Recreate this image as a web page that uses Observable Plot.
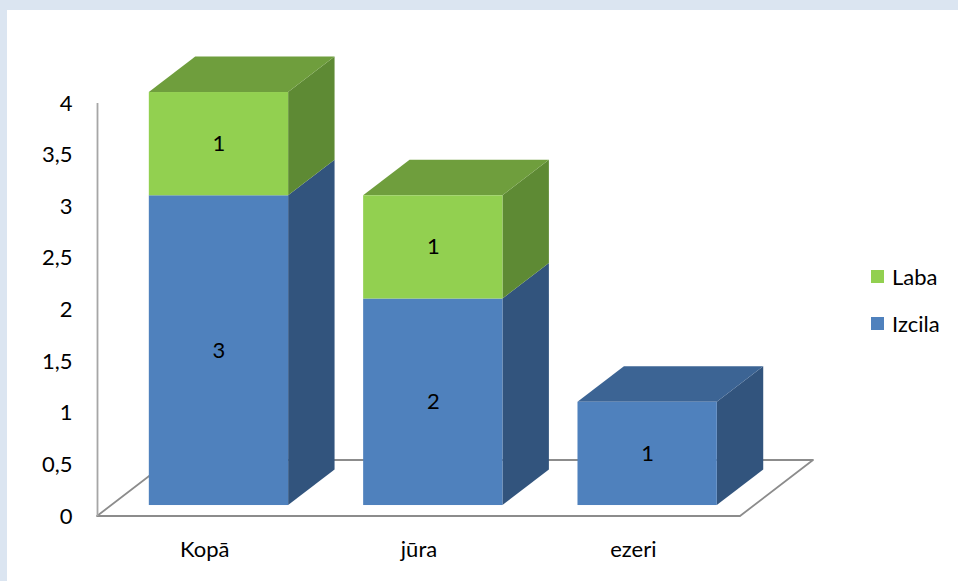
<!DOCTYPE html>
<html>
<head>
<meta charset="utf-8">
<script src="https://cdn.jsdelivr.net/npm/d3@7"></script>
<script src="https://cdn.jsdelivr.net/npm/@observablehq/plot@0.6"></script>
<style>
  html, body { margin: 0; padding: 0; }
  body { width: 958px; height: 581px; background: #dbe5f1; position: relative; overflow: hidden; font-family: Lato, "Open Sans", sans-serif; }
  #panel { position: absolute; left: 7px; top: 10px; right: 0; bottom: 0; background: #ffffff; }
  #chart { position: absolute; left: 0; top: 0; }
  #chart svg text { font-size: 22px; font-family: Lato, "Open Sans", sans-serif; }
  #legend { position: absolute; left: 871px; top: 266px; font-size: 22px; color: #000; }
  .row { display: flex; align-items: center; height: 20px; margin-bottom: 27px; }
  .sw { width: 13px; height: 13px; margin-right: 8px; }
</style>
</head>
<body>
<div id="panel"></div>
<div id="chart"></div>
<div id="legend"></div>
<script>
// ---- data ----
const categories = ["Kopā", "jūra", "ezeri"];
const izcila = [3, 2, 1];
const laba = [1, 1, 0];
const seriesNames = ["Izcila", "Laba"];
const yTicks = [0, 0.5, 1, 1.5, 2, 2.5, 3, 3.5, 4];

// ---- styling ----
const front = { Izcila: "#4f81bd", Laba: "#92d050" };
const side  = { Izcila: "#32547d", Laba: "#5e8a34" };
const top_  = { Izcila: "#3c6494", Laba: "#6f9e3d" };
const DX = 73 / 214.33;   // floor depth in x units
const DY = 56 / 103.25;   // floor depth in value units
const zf = 0.196, zb = 0.832, hw = 0.325;
const fx = zf * DX, fy = zf * DY, bx = zb * DX, by = zb * DY;

// ---- build segments ----
const segs = [];
categories.forEach((c, i) => {
  let base = 0;
  [izcila[i], laba[i]].forEach((v, k) => {
    if (v > 0) segs.push({ i, s: seriesNames[k], y1: base, y2: base + v, v });
    base += v;
  });
});
const tops = categories.map((c, i) => segs.filter(d => d.i === i).slice(-1)[0]);

const quads = [];
segs.forEach((d, n) => {
  const xr = d.i + hw;
  quads.push({ id: "s" + n, fill: side[d.s], pts: [
    [xr + fx, d.y1 + fy, xr + bx, d.y1 + by],
    [xr + fx, d.y2 + fy, xr + bx, d.y2 + by]] });
});
tops.forEach((d, n) => {
  quads.push({ id: "t" + n, fill: top_[d.s], pts: [
    [d.i - hw + fx, d.y2 + fy, d.i - hw + bx, d.y2 + by],
    [d.i + hw + fx, d.y2 + fy, d.i + hw + bx, d.y2 + by]] });
});
const quadRows = quads.flatMap(q => q.pts.map(p => ({ id: q.id, fill: q.fill, x1: p[0], y1: p[1], x2: p[2], y2: p[3] })));

const floorRows = [
  { x1: -0.5, y1: 0, x2: -0.5 + DX, y2: DY },
  { x1: 2.5, y1: 0, x2: 2.5 + DX, y2: DY }
];

const plot = Plot.plot({
  width: 958,
  height: 581,
  marginLeft: 97,
  marginRight: 218,
  marginTop: 103,
  marginBottom: 65,
  style: { fontFamily: "Lato, 'Open Sans', sans-serif", fontSize: "22px", background: "transparent", color: "#000", overflow: "visible" },
  x: { domain: [-0.5, 2.5], ticks: [0, 1, 2], tickFormat: i => categories[i], tickSize: 0, tickPadding: 25, label: null },
  y: { domain: [0, 4], ticks: yTicks, tickFormat: d => String(d).replace(".", ","), tickSize: 0, tickPadding: 25, label: null },
  color: { type: "identity" },
  marks: [
    Plot.area(floorRows, { x1: "x1", y1: "y1", x2: "x2", y2: "y2", fill: "white", stroke: "#8c8c8c", strokeWidth: 1.8 }),
    Plot.ruleX([-0.5], { y1: 0, y2: 4, stroke: "#a6a6a6", strokeWidth: 1.8 }),
    Plot.area(quadRows, { x1: "x1", y1: "y1", x2: "x2", y2: "y2", z: "id", fill: "fill" }),
    Plot.rect(segs, { x1: d => d.i - hw + fx, x2: d => d.i + hw + fx, y1: d => d.y1 + fy, y2: d => d.y2 + fy, fill: d => front[d.s] }),
    Plot.text(segs, { x: d => d.i + fx, y: d => (d.y1 + d.y2) / 2 + fy, text: d => String(d.v), fontSize: 22, fill: "#000" })
  ]
});
document.getElementById("chart").appendChild(plot);

const legend = document.getElementById("legend");
["Laba", "Izcila"].forEach(s => {
  const row = document.createElement("div");
  row.className = "row";
  row.innerHTML = `<div class="sw" style="background:${front[s]}"></div><span>${s}</span>`;
  legend.appendChild(row);
});
</script>
</body>
</html>
